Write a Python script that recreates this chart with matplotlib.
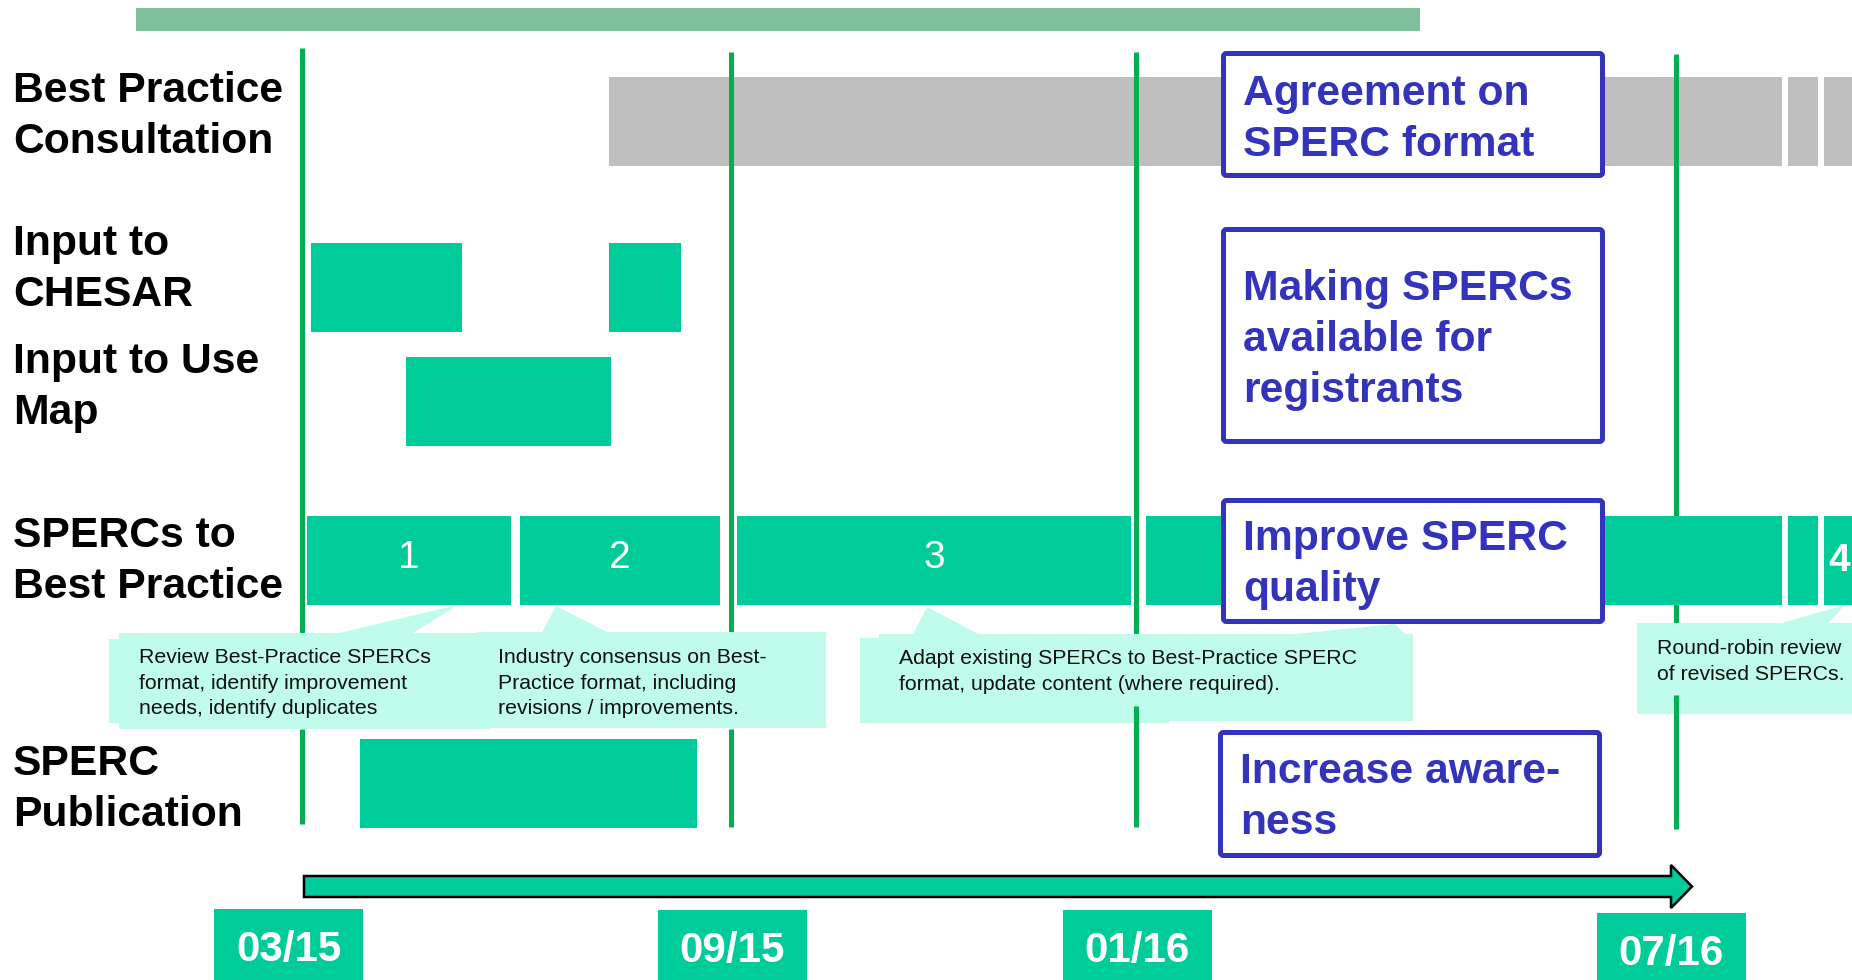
import matplotlib
matplotlib.use("Agg")
import matplotlib.pyplot as plt
from matplotlib.patches import Rectangle, Polygon, FancyArrow, FancyBboxPatch

plt.rcParams['font.family'] = ['Liberation Sans', 'DejaVu Sans']

# ------------------------------------------------------------------ data
# timeline unit = position along the drawn (non-linear) roadmap axis
row_labels = ["Best Practice\nConsultation", "Input to\nCHESAR", "Input to Use\nMap",
              "SPERCs to\nBest Practice", "SPERC\nPublication"]

consult_start = [609, 1788, 1824]
consult_end = [1782, 1818, 1880]

chesar_start = [311, 609]
chesar_end = [462, 681]

usemap_start = [406]
usemap_end = [611]

spercs_start = [307, 520, 737, 1146, 1788, 1824]
spercs_end = [511, 720, 1131, 1782, 1818, 1880]
spercs_phase = ["1", "2", "3", "", "", "4"]

publication_start = [360]
publication_end = [697]

milestone_labels = ["03/15", "09/15", "01/16", "07/16"]
milestone_pos = [302, 731, 1136, 1676]
milestone_box_left = [214, 658, 1063, 1597]

goal_texts = ["Agreement on\nSPERC format",
              "Making SPERCs\navailable for\nregistrants",
              "Improve SPERC\nquality",
              "Increase aware-\nness"]

callout_texts = ["Review Best-Practice SPERCs\nformat, identify improvement\nneeds, identify duplicates",
                 "Industry consensus on Best-\nPractice format, including\nrevisions / improvements.",
                 "Adapt existing SPERCs to Best-Practice SPERC\nformat, update content (where required).",
                 "Round-robin review\nof revised SPERCs."]

timeline_start = 304
timeline_end = 1692
overall_start = 136
overall_end = 1420

# ------------------------------------------------------------------ styles / layout
TEAL = "#00CC99"
GRAY = "#BFBFBF"
LINEGREEN = "#00B050"
TOPGREEN = "#7FBF9B"
BLUE = "#3333BB"
MINT = "#BFFCEB"
BIG = 30.7

W, H = 1852, 980
fig = plt.figure(figsize=(W / 100, H / 100), dpi=100)
ax = fig.add_axes([0, 0, 1, 1])
ax.set_xlim(0, W)
ax.set_ylim(H, 0)
ax.axis("off")

row_top = [77, 243, 357, 516, 739]
row_bot = [166, 332, 446, 605, 828]
label_base = [102, 255, 373, 547, 775]
LINE = 51


def bars(starts, ends, row, color, z=3):
    for s, e in zip(starts, ends):
        ax.add_patch(Rectangle((s, row_top[row]), e - s, row_bot[row] - row_top[row],
                               facecolor=color, edgecolor="none", zorder=z))


# overall programme bar
ax.add_patch(Rectangle((overall_start, 8), overall_end - overall_start, 23,
                       facecolor=TOPGREEN, edgecolor="none", zorder=1))

# row labels
for i, lab in enumerate(row_labels):
    for k, ln in enumerate(lab.split("\n")):
        ax.text(13, label_base[i] + k * LINE, ln, fontsize=BIG, fontweight="bold",
                color="black", ha="left", va="baseline", zorder=6)

# consultation (grey)
bars(consult_start, consult_end, 0, GRAY, z=1)

# milestone lines
line_top = [48, 52, 52, 54]
line_bot = [824, 827, 827, 829]
gap_top = [633, 632, 634, 623]
gap_bot = [729, 729, 706, 695]
for x, t, b, g0, g1 in zip(milestone_pos, line_top, line_bot, gap_top, gap_bot):
    ax.plot([x, x], [t, g0], color=LINEGREEN, lw=3.6, solid_capstyle="butt", zorder=2)
    ax.plot([x, x], [g1, b], color=LINEGREEN, lw=3.6, solid_capstyle="butt", zorder=5)

# activity bars
bars(chesar_start, chesar_end, 1, TEAL)
bars(usemap_start, usemap_end, 2, TEAL)
bars(spercs_start, spercs_end, 3, TEAL)
bars(publication_start, publication_end, 4, TEAL)
for s, e, p in zip(spercs_start, spercs_end, spercs_phase):
    if not p:
        continue
    if e <= W:
        ax.text((s + e) / 2, 568, p, fontsize=28, color="white", ha="center", va="baseline",
                zorder=4)
    else:
        ax.text(s + 4, 571, p, fontsize=28, fontweight="bold", color="white", ha="left",
                va="baseline", zorder=4, clip_on=True)

# callouts
main_rect = [(119, 633, 490, 729), (477, 632, 826, 728), (879, 634, 1413, 721), (1637, 623, 1880, 714)]
shadow_rect = [(109, 639, 300, 723), None, (860, 638, 1169, 723), None]
tails = [[[(337, 633.5), (458, 605), (412, 633.5)]],
         [[(542, 632.5), (556, 606), (608, 632.5)]],
         [[(913, 634.5), (927, 607), (979, 634.5)], [(1290, 634.5), (1395, 624), (1405, 634.5)]],
         [[(1780, 623.5), (1845, 605), (1828, 623.5)]]]
text_pos = [(139, 663, 25.5), (498, 663, 25.5), (899, 664, 26), (1657, 654, 26)]
for i, txt in enumerate(callout_texts):
    x0, y0, x1, y1 = main_rect[i]
    ax.add_patch(Rectangle((x0, y0), x1 - x0, y1 - y0, facecolor=MINT, edgecolor="none", zorder=4))
    if shadow_rect[i]:
        a0, b0, a1, b1 = shadow_rect[i]
        ax.add_patch(Rectangle((a0, b0), a1 - a0, b1 - b0, facecolor=MINT, edgecolor="none", zorder=4))
    for tri in tails[i]:
        ax.add_patch(Polygon(tri, closed=True, facecolor=MINT, edgecolor="none", zorder=4))
    tx, ty, step = text_pos[i]
    for k, ln in enumerate(txt.split("\n")):
        ax.text(tx, ty + k * step, ln, fontsize=15.3, color="#111111", ha="left",
                va="baseline", zorder=6)

# goal boxes
goal_box = [(1221, 51, 1605, 178), (1221, 227, 1605, 444), (1221, 498, 1605, 624), (1218, 730, 1602, 858)]
goal_base = [105, 300, 550, 783]
for i, txt in enumerate(goal_texts):
    x0, y0, x1, y1 = goal_box[i]
    ax.add_patch(FancyBboxPatch((x0 + 2.5, y0 + 2.5), x1 - x0 - 5, y1 - y0 - 5,
                                boxstyle="round,pad=0,rounding_size=3",
                                facecolor="white", edgecolor=BLUE, lw=3.6, zorder=7))
    for k, ln in enumerate(txt.split("\n")):
        ax.text(x0 + 22, goal_base[i] + k * LINE, ln, fontsize=BIG, fontweight="bold",
                color=BLUE, ha="left", va="baseline", zorder=8)

# timeline arrow
ax.add_patch(FancyArrow(timeline_start, 886.5, timeline_end - timeline_start, 0, width=21,
                        head_width=43, head_length=21, length_includes_head=True,
                        facecolor=TEAL, edgecolor="black", lw=1.8, zorder=5))

# milestone date boxes
date_top = [909, 910, 910, 913]
date_base = [961, 962, 962, 965]
for lab, bl, t, b in zip(milestone_labels, milestone_box_left, date_top, date_base):
    ax.add_patch(Rectangle((bl, t), 149, H - t + 5, facecolor=TEAL, edgecolor="none", zorder=5))
    ax.text(bl + 74.5, b, lab, fontsize=30.3, fontweight="bold", color="white",
            ha="center", va="baseline", zorder=6)

fig.savefig("out.png", dpi=100, facecolor="white")
